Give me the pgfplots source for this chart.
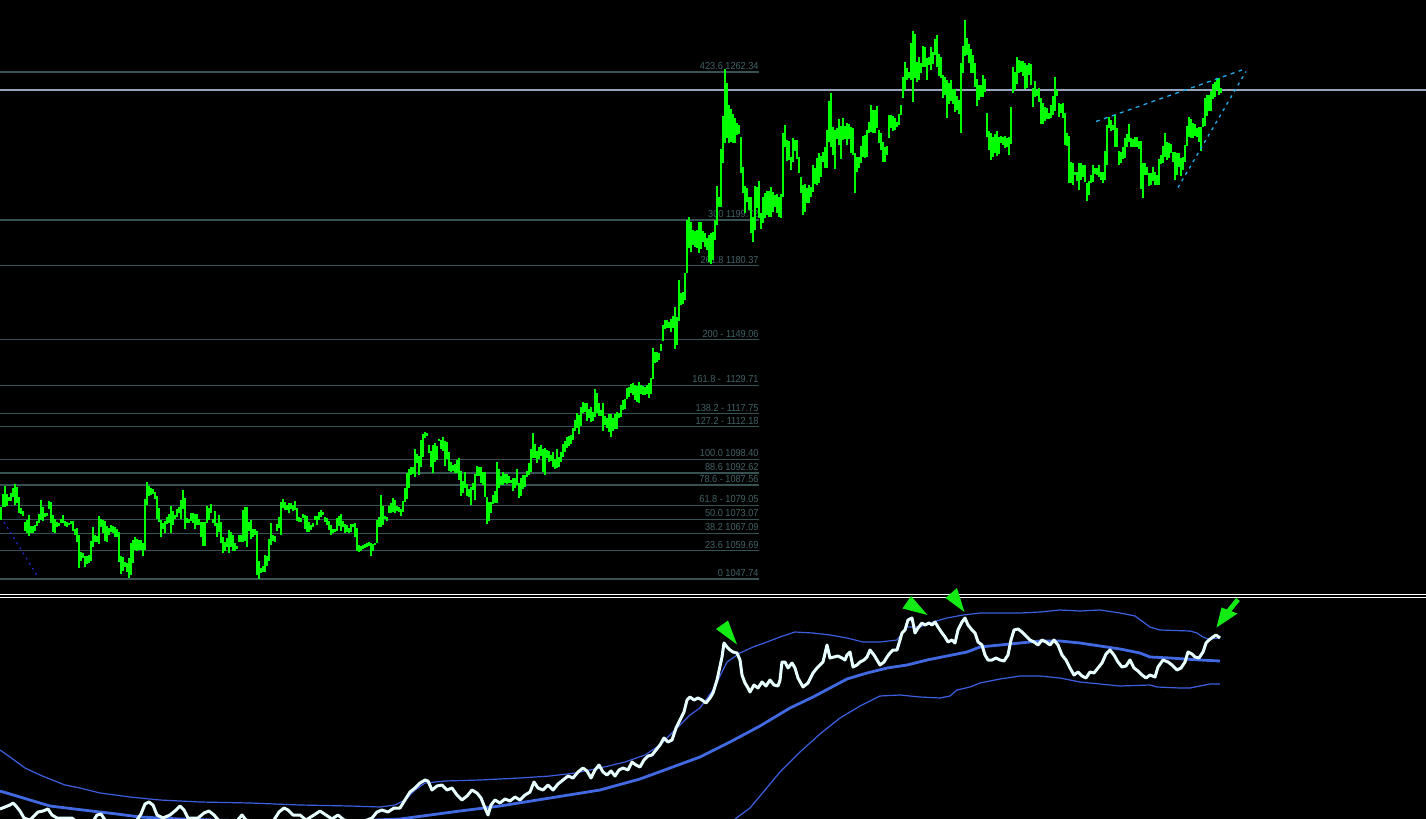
\documentclass[border=0pt]{standalone}
\usepackage{fontspec}
\setmainfont{Liberation Sans}
\usepackage{graphicx}
\usepackage{pgfplots}
\usepackage{pgfplotstable}
\pgfplotsset{compat=1.18}
\definecolor{barg}{RGB}{0,255,0}
\definecolor{fibl}{RGB}{55,82,82}
\definecolor{fibt}{RGB}{66,98,102}
\definecolor{hline}{RGB}{150,165,188}
\definecolor{cyanl}{RGB}{30,170,235}
\definecolor{dblue}{RGB}{40,40,210}
\definecolor{bandthin}{RGB}{60,95,225}
\definecolor{bandmid}{RGB}{65,105,225}
\definecolor{wline}{RGB}{232,255,255}
\definecolor{arrg}{RGB}{20,235,20}
\newcommand{\fib}[1]{\scalebox{0.9}[1]{#1}}

% HL bars: x, high (pixel row), low (pixel row)
\pgfplotstableread{
x h l
1 507 520
3 494 507
5 486 507
7 494 506
9 497 501
11 493 501
13 488 497
15 484 505
17 487 503
19 497 513
21 508 514
23 511 516
25 522 531
27 520 533
29 515 536
31 526 533
33 526 533
35 525 531
37 521 526
39 514 523
41 500 520
43 507 521
45 513 517
47 513 516
49 501 509
51 502 523
53 515 532
55 519 533
57 522 527
59 523 526
61 519 523
63 515 523
65 521 526
67 522 527
69 523 525
71 521 524
73 521 531
75 529 535
77 528 542
79 535 568
81 552 561
83 553 558
85 556 567
87 556 564
89 555 563
91 541 561
93 527 547
95 535 542
97 536 542
99 516 544
101 519 527
103 520 533
105 521 541
107 526 542
109 528 535
111 525 532
113 526 533
115 527 537
117 529 537
119 532 562
121 556 574
123 557 571
125 562 567
127 563 572
129 558 578
131 543 575
133 540 563
135 537 550
137 539 551
139 540 550
141 540 550
143 543 556
145 499 550
147 482 505
149 486 496
151 488 495
153 489 494
155 492 499
157 496 519
159 508 522
161 520 537
163 523 529
165 521 533
167 517 524
169 514 523
171 506 533
173 511 525
175 515 519
177 509 517
179 507 513
181 500 519
183 490 509
185 498 529
187 518 523
189 519 523
191 513 521
193 513 523
195 514 529
197 514 525
199 519 525
201 522 537
203 522 546
205 522 546
207 506 523
209 508 520
211 504 513
213 519 523
215 511 526
217 523 537
219 515 532
221 522 543
223 537 553
225 542 551
227 538 547
229 530 553
231 532 547
233 535 551
235 543 551
237 546 549
239 535 542
241 535 542
243 510 542
245 507 541
247 507 547
249 522 531
251 520 539
253 529 537
255 529 535
257 531 575
259 561 579
261 568 573
263 566 572
265 555 572
267 556 566
269 539 561
271 523 545
273 535 541
275 536 542
277 524 531
279 517 528
281 502 535
283 499 508
285 502 510
287 505 510
289 503 513
291 503 509
293 505 511
295 501 510
297 508 521
299 517 522
301 518 522
303 514 518
305 515 529
307 516 532
309 522 532
311 525 530
313 523 527
315 516 520
317 516 525
319 512 520
321 510 517
323 512 515
325 517 522
327 518 525
329 521 530
331 525 535
333 529 533
335 529 532
337 518 531
339 516 526
341 514 531
343 521 527
345 524 533
347 525 532
349 528 533
351 524 532
353 524 527
355 523 537
357 528 551
359 545 552
361 546 551
363 545 549
365 544 548
367 543 547
369 542 546
371 543 556
373 544 551
375 543 545
377 520 543
379 517 527
381 495 527
383 506 525
385 516 519
387 517 521
389 506 513
391 503 513
393 498 512
395 500 513
397 506 511
399 507 512
401 509 516
403 501 512
405 488 502
407 473 499
409 469 488
411 467 475
413 467 474
415 449 477
417 454 463
419 456 475
421 440 467
423 434 457
425 432 438
427 433 436
429 445 453
431 451 467
433 445 473
435 443 462
437 446 460
439 439 441
441 440 449
443 437 451
445 441 466
447 442 459
449 452 471
451 462 472
453 465 471
455 464 473
457 460 473
459 458 480
461 471 496
463 481 493
465 472 488
467 484 496
469 489 497
471 487 505
473 483 490
475 474 500
477 466 476
479 467 476
481 467 483
483 472 485
485 472 497
487 497 524
489 502 521
491 502 513
493 495 504
495 491 503
497 462 503
499 469 488
501 476 485
503 472 485
505 474 483
507 474 484
509 476 483
511 480 483
513 478 491
515 478 488
517 469 485
519 483 498
521 478 496
523 475 489
525 475 487
527 471 477
529 463 475
531 449 472
533 433 458
535 444 458
537 451 463
539 447 459
541 445 456
543 449 472
545 448 475
547 450 458
549 451 462
551 455 461
553 452 467
555 459 469
557 449 468
559 457 467
561 452 462
563 444 457
565 441 452
567 437 448
569 436 446
571 435 444
573 428 440
575 420 431
577 413 428
579 415 434
581 407 426
583 402 413
585 403 412
587 403 421
589 409 418
591 407 422
593 412 421
595 389 417
597 393 413
599 403 416
601 410 416
603 403 431
605 416 425
607 418 428
609 414 432
611 414 437
613 418 431
615 414 429
617 412 429
619 413 418
621 405 417
623 400 410
625 399 409
627 388 399
629 387 397
631 384 393
633 383 395
635 385 400
637 386 402
639 382 403
641 385 394
643 386 395
645 387 395
647 385 394
649 383 398
651 378 394
653 348 379
655 352 363
657 352 362
659 353 360
661 344 351
663 325 341
665 320 329
667 320 328
669 322 328
671 319 332
673 316 328
675 307 349
677 317 345
679 280 321
681 293 305
683 292 304
685 273 300
687 220 273
689 217 248
691 222 252
693 230 245
695 231 247
697 230 248
699 222 253
701 222 249
703 231 242
705 233 247
707 238 250
709 235 262
711 233 264
713 232 260
715 220 240
717 186 225
719 197 207
721 149 207
723 116 163
725 69 143
727 83 138
729 105 143
731 109 142
733 114 143
735 118 143
737 123 135
739 125 134
741 137 173
743 167 193
745 186 213
747 188 202
749 197 210
751 197 233
753 217 242
755 186 230
757 187 208
759 181 218
761 213 229
763 197 223
765 193 218
767 191 215
769 191 217
771 187 217
773 192 212
775 195 207
777 194 213
779 197 217
781 194 218
783 133 197
785 125 147
787 140 161
789 141 160
791 157 170
793 138 162
795 140 151
797 140 159
799 157 173
801 177 193
803 185 215
805 184 212
807 188 203
809 185 203
811 187 197
813 165 192
815 168 184
817 158 185
819 153 183
821 156 177
823 152 162
825 147 168
827 130 168
829 101 142
831 93 147
833 127 155
835 130 169
837 128 139
839 119 145
841 126 159
843 118 140
845 126 139
847 123 145
849 124 139
851 127 153
853 128 155
855 153 193
857 157 172
859 157 168
861 146 163
863 136 157
865 135 158
867 130 157
869 122 133
871 105 132
873 110 133
875 110 133
877 106 128
879 130 143
881 133 150
883 142 162
885 147 162
887 146 155
889 115 138
891 115 128
893 116 131
895 118 130
897 122 127
899 114 125
901 105 115
903 77 98
905 62 90
907 68 80
909 72 78
911 43 80
913 31 102
915 34 78
917 62 82
919 57 80
921 63 73
923 46 67
925 47 67
927 58 80
929 57 65
931 47 70
933 52 64
935 39 55
937 35 67
939 54 76
941 57 78
943 75 98
945 77 95
947 80 118
949 83 104
951 80 101
953 89 104
955 89 112
957 96 110
959 100 114
961 63 133
963 46 73
965 20 56
967 38 55
969 44 63
971 49 73
973 55 73
975 63 87
977 79 106
979 85 100
981 85 97
983 75 97
985 79 92
987 113 137
989 131 150
991 133 160
993 137 157
995 134 153
997 131 156
999 137 154
1001 136 143
1003 137 145
1005 136 148
1007 138 147
1009 137 155
1011 107 144
1013 67 93
1015 72 90
1017 57 84
1019 60 73
1021 61 72
1023 61 76
1025 63 89
1027 65 88
1029 63 75
1031 64 85
1033 88 107
1035 81 97
1037 90 96
1039 88 102
1041 98 124
1043 103 124
1045 107 121
1047 108 119
1049 113 119
1051 105 118
1053 96 115
1055 77 111
1057 90 96
1059 103 117
1061 104 113
1063 103 118
1065 113 145
1067 133 146
1069 136 183
1071 162 183
1073 163 185
1075 172 175
1077 172 181
1079 163 190
1081 163 180
1083 165 177
1085 165 182
1087 183 201
1089 181 195
1091 175 183
1093 165 182
1095 168 174
1097 168 175
1099 165 177
1101 172 180
1103 172 183
1105 151 180
1107 125 165
1109 117 128
1111 120 131
1113 125 130
1115 115 147
1117 128 147
1119 151 165
1121 152 163
1123 147 159
1125 138 158
1127 134 147
1129 124 142
1131 138 147
1133 139 147
1135 137 147
1137 137 147
1139 141 149
1141 141 189
1143 163 198
1145 163 175
1147 167 175
1149 173 186
1151 173 185
1153 167 181
1155 172 185
1157 175 185
1159 159 185
1161 155 164
1163 146 163
1165 133 157
1167 142 160
1169 143 158
1171 144 153
1173 152 162
1175 152 180
1177 153 175
1179 153 167
1181 158 176
1183 157 170
1185 145 162
1187 126 146
1189 117 137
1191 119 138
1193 123 138
1195 124 136
1197 128 137
1199 127 142
1201 127 151
1203 118 127
1205 98 126
1207 95 116
1209 95 111
1211 91 111
1213 84 99
1215 82 97
1217 78 90
1219 78 95
1221 88 93
}\bars

\begin{document}
\begin{tikzpicture}
\useasboundingbox (0,0) rectangle (713pt,409.5pt);
\fill[black] (0,0) rectangle (713pt,409.5pt);
\begin{axis}[at={(0,0)}, anchor=south west, scale only axis,
  width=713pt, height=409.5pt,
  xmin=0, xmax=1426, ymin=0, ymax=819, y dir=reverse,
  hide axis, clip=true]

% Fibonacci levels
\pgfplotsinvokeforeach{72.0,220.0,265.7,339.7,385.4,413.6,426.8,459.4,473.0,485.0,505.1,519.2,533.3,550.8,579.0}{
  \addplot[fibl, line width=0.55pt, forget plot] coordinates {(0,#1) (759,#1)};
}
\begin{scope}[every node/.style={anchor=base east, inner sep=0pt, text=fibt, font=\fontsize{5.1}{6}\selectfont}]
\node at (axis cs:759,69.5) {\fib{423.6 1262.34}};
\node at (axis cs:759,217.5) {\fib{300 1199.72}};
\node at (axis cs:759,263.2) {\fib{261.8 1180.37}};
\node at (axis cs:759,337.2) {\fib{200 - 1149.06}};
\node at (axis cs:759,382.9) {\fib{161.8 -\ \ 1129.71}};
\node at (axis cs:759,411.1) {\fib{138.2 - 1117.75}};
\node at (axis cs:759,424.3) {\fib{127.2 - 1112.18}};
\node at (axis cs:759,456.9) {\fib{100.0 1098.40}};
\node at (axis cs:759,470.5) {\fib{88.6 1092.62}};
\node at (axis cs:759,482.5) {\fib{78.6 - 1087.56}};
\node at (axis cs:759,502.6) {\fib{61.8 - 1079.05}};
\node at (axis cs:759,516.7) {\fib{50.0 1073.07}};
\node at (axis cs:759,530.8) {\fib{38.2 1067.09}};
\node at (axis cs:759,548.3) {\fib{23.6 1059.69}};
\node at (axis cs:759,576.5) {\fib{0 1047.74}};
\end{scope}

% horizontal level line
\addplot[hline, line width=0.6pt] coordinates {(0,90) (1426,90)};

% HL bars drawn as vertical segments from high to low
\addplot[barg, line width=0.6pt, line cap=butt,
  quiver={u=0, v=\thisrow{l}-\thisrow{h}}]
  table[x=x, y=h] {\bars};

% trend lines
\addplot[cyanl, line width=0.65pt, dash pattern=on 2pt off 2.2pt] coordinates {(1096,121.5) (1242,70)};
\addplot[cyanl, line width=0.65pt, dash pattern=on 1.5pt off 2.2pt] coordinates {(1178,187.5) (1246,71.5)};
\addplot[dblue, line width=0.6pt, dash pattern=on 1pt off 2pt] coordinates {(4,522) (38,577)};

% panel separator
\addplot[white, line width=0.6pt] coordinates {(0,594.5) (1426,594.5)};
\addplot[white, line width=0.6pt] coordinates {(0,597.2) (1426,597.2)};

% indicator bands
\addplot[bandthin, line width=0.6pt] coordinates {
(0,750) (10,757) (25,768) (40,775) (55,781) (65,785) (80,788) (100,793) (130,797) (160,800) (200,802) (250,803) (300,805) (350,806) (380,807) (395,805) (405,800) (415,790) (425,783) (445,781) (480,780) (520,778) (550,776) (575,773) (600,768) (625,762) (645,755) (660,745) (675,730) (690,715) (700,708) (713,690) (727,662) (740,653) (753,647) (767,642) (780,637) (795,632) (813,633) (830,635) (847,638) (863,642) (880,642) (897,640) (907,627) (920,627) (933,622) (947,618) (963,615) (980,613) (1000,613) (1020,613) (1040,612) (1060,610) (1080,611) (1100,610) (1120,613) (1135,616) (1150,627) (1160,630) (1190,631) (1197,633) (1203,637) (1208,639) (1220,638)};
\addplot[bandmid, line width=1.4pt] coordinates {
(0,791) (20,797) (50,806) (83,810) (117,814) (140,817) (180,819) (250,821) (350,821) (400,819) (430,815) (460,811) (500,806) (550,798) (600,790) (640,779) (670,768) (700,757) (730,742) (760,726) (790,708) (813,697) (830,688) (847,679) (867,673) (887,668) (907,665) (927,660) (947,656) (967,652) (980,647) (1000,645) (1020,643) (1040,641) (1060,641) (1080,643) (1100,646) (1120,649) (1140,653) (1150,657) (1170,658) (1200,660) (1220,661)};
\addplot[bandthin, line width=0.6pt] coordinates {
(700,845) (735,819) (750,808) (765,790) (780,772) (800,752) (820,734) (840,718) (860,706) (880,696) (900,695) (920,697) (940,698) (950,696) (957,690) (970,687) (980,683) (1000,679) (1020,676) (1040,676) (1060,678) (1080,682) (1100,684) (1120,686) (1150,685) (1157,687) (1180,688) (1190,688) (1200,686) (1210,684) (1220,684)};

% indicator line
\addplot[wline, line width=1.5pt, line join=round] coordinates {
(0,809) (5,807) (10,805) (13,803) (16,806) (20,811) (24,818) (30,820) (34,816) (38,812) (43,811) (48,809) (52,815) (57,818) (65,818) (72,818) (78,823) (92,823) (97,815) (101,814) (105,820) (118,823) (135,823) (141,814) (145,804) (149,802) (153,805) (157,815) (163,818) (170,815) (176,810) (180,806) (184,810) (188,818) (198,818) (204,813) (209,811) (214,815) (220,822) (236,822) (242,815) (246,820) (262,823) (272,823) (279,812) (284,808) (288,810) (293,815) (300,815) (306,820) (314,815) (320,811) (326,815) (332,819) (338,815) (344,820) (360,823) (372,818) (377,812) (382,810) (388,812) (394,808) (400,808)
(405,800) (410,792) (415,788) (420,783) (425,780) (428,781) (432,790) (437,786) (442,785) (447,790) (452,788) (457,795) (462,800) (467,796) (472,790) (477,793) (481,798) (485,808) (488,815) (491,805) (495,800) (500,803) (505,799) (510,801) (515,797) (520,800) (525,795) (530,792) (534,782) (538,788) (543,790) (548,785) (553,790) (558,784) (563,780) (568,776) (573,778) (578,772) (583,768) (587,771) (591,778) (595,770) (599,765) (603,772) (607,775) (611,771) (615,776) (619,770) (623,768) (628,770) (632,762) (636,765) (640,767) (644,760) (648,756) (652,755) (656,750) (660,745) (664,738) (668,742) (672,740) (676,728) (680,720) (684,712) (687,700) (690,697) (694,700) (698,698) (702,700) (706,703) (710,698) (713,693) (717,680) (722,657) (724,643) (727,647) (730,650) (733,652) (737,653) (740,660) (742,675) (745,683) (748,688) (750,692) (754,685) (758,688) (762,682) (766,686) (770,680) (774,685) (778,686) (780,680) (782,662) (785,662) (788,668) (792,663) (795,668) (798,678) (803,687) (808,683) (813,673) (817,668) (820,665) (823,662) (827,645) (830,658) (834,657) (838,656) (842,658) (845,660) (847,655) (850,652) (853,667) (857,665) (860,662) (864,660) (867,657) (870,650) (874,655) (877,660) (880,665) (884,662) (887,657) (890,653) (893,650) (897,650) (900,640) (902,633) (905,630) (908,620) (912,618) (915,633) (918,628) (922,623) (925,625) (929,623) (932,625) (935,622) (938,627) (942,633) (945,637) (948,642) (952,640) (955,643) (958,630) (962,622) (965,618) (968,625) (972,630) (975,633) (978,642)
(982,645) (985,655) (988,660) (992,660) (996,658) (1000,660) (1004,661) (1008,655) (1011,640) (1014,630) (1018,629) (1022,632) (1026,636) (1030,640) (1034,642) (1038,645) (1042,640) (1046,642) (1050,645) (1054,640) (1058,645) (1062,655) (1066,660) (1070,668) (1074,675) (1078,672) (1082,676) (1086,678) (1090,672) (1094,673) (1098,668) (1102,663) (1106,654) (1110,650) (1114,655) (1118,662) (1122,667) (1126,666) (1130,660) (1134,668) (1138,671) (1142,675) (1146,678) (1150,675) (1155,677) (1158,667) (1163,660) (1168,662) (1172,665) (1177,670) (1181,668) (1185,662) (1188,652) (1192,654) (1195,657) (1199,658) (1203,652) (1206,643) (1209,640) (1213,637) (1216,635) (1220,638)};

% signal arrows
\addplot[fill=arrg, draw=none] coordinates {(716,629) (728,620.5) (737,644.5)} -- cycle;
\addplot[fill=arrg, draw=none] coordinates {(902.5,608.5) (911,596) (927.5,615)} -- cycle;
\addplot[fill=arrg, draw=none] coordinates {(945.5,598) (957,588) (964.5,612)} -- cycle;
\addplot[fill=arrg, draw=none] coordinates {(1216.5,627.5) (1221.5,607.5) (1237.5,613.5)} -- cycle;
\addplot[arrg, line width=2.4pt] coordinates {(1238,599.5) (1227,613)};
\end{axis}
\end{tikzpicture}
\end{document}
